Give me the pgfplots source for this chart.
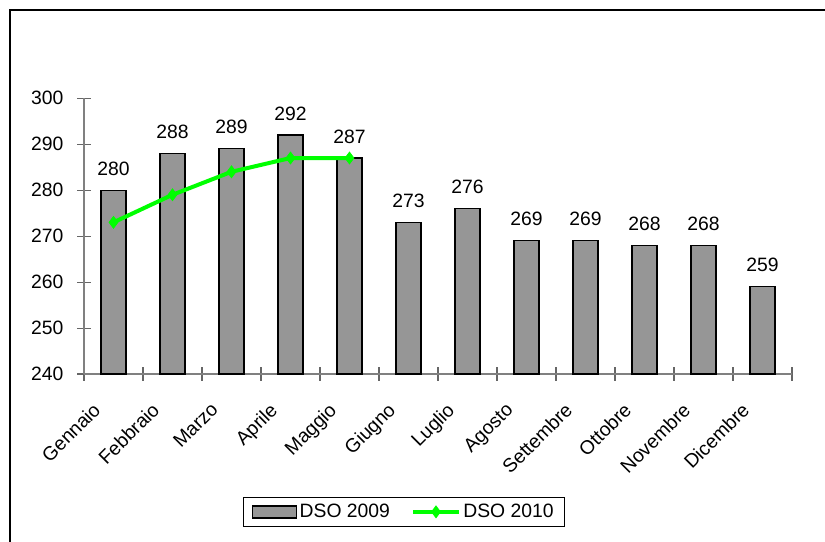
\documentclass[border=0pt]{standalone}
\usepackage{pgfplots}
\pgfplotsset{compat=1.18}
\usepackage{fontspec}
\setmainfont{Liberation Sans}
\definecolor{bargray}{RGB}{150,150,150}
\definecolor{lgreen}{RGB}{0,255,0}
\pgfplotsset{
  barlegend/.style={legend image code/.code={\draw[##1] (0pt,-4.5pt) rectangle (33pt,4.5pt);}},
  linelegend/.style={legend image code/.code={\draw[##1] (0pt,0pt) -- (34pt,0pt); \draw[##1] plot coordinates {(17pt,0pt)};}},
}
\begin{document}
\begin{tikzpicture}[x=1pt,y=1pt]
\useasboundingbox (0,0) rectangle (618.75,406.5);
\draw[line width=0.9pt] (7.5,-5) -- (7.5,399) -- (630,399);
\begin{axis}[
  at={(63pt,126pt)}, anchor=south west,
  scale only axis, width=531pt, height=206.8pt,
  xmin=-0.5, xmax=11.5, ymin=240, ymax=300,
  ytick={240,250,...,300},
  xtick={0,...,11},
  xticklabels={Gennaio,Febbraio,Marzo,Aprile,Maggio,Giugno,Luglio,Agosto,Settembre,Ottobre,Novembre,Dicembre},
  minor xtick={-0.5,0.5,...,11.5},
  major x tick style={draw=none},
  axis x line=bottom, axis y line=left,
  axis line style={-, draw=black!50, line width=0.8pt},
  every tick/.style={draw=black!60, line width=0.8pt},
  tick align=center,
  major tick length=10pt, minor tick length=10pt,
  font=\fontsize{14.5}{17}\selectfont,
  /pgf/number format/assume math mode=true,
  xticklabel style={xshift=-16.4pt, yshift=-14pt, rotate=45, anchor=north east, inner sep=1pt},
  yticklabel style={xshift=-7pt},
  legend columns=2,
  legend style={at={(0.452,-0.5)}, anchor=center, draw=black, line width=0.8pt,
    inner xsep=6pt, inner ysep=3pt,
    /tikz/every even column/.append style={column sep=14pt},
    font=\fontsize{14.5}{17}\selectfont},
  clip=false,
]
\addplot[ybar, bar width=18.75pt, fill=bargray, draw=black, line width=1pt,
  nodes near coords,
  nodes near coords style={anchor=base, yshift=11.25pt, black},
  barlegend]
  coordinates {(0,280)(1,288)(2,289)(3,292)(4,287)(5,273)(6,276)(7,269)(8,269)(9,268)(10,268)(11,259)};
\addlegendentry{DSO 2009}
\addplot[lgreen, line width=3pt, mark=diamond*, mark size=4.5pt, mark options={fill=lgreen, line width=0.5pt},
  linelegend]
  coordinates {(0,273)(1,279)(2,284)(3,287)(4,287)};
\addlegendentry{DSO 2010}
\end{axis}
\end{tikzpicture}
\end{document}
